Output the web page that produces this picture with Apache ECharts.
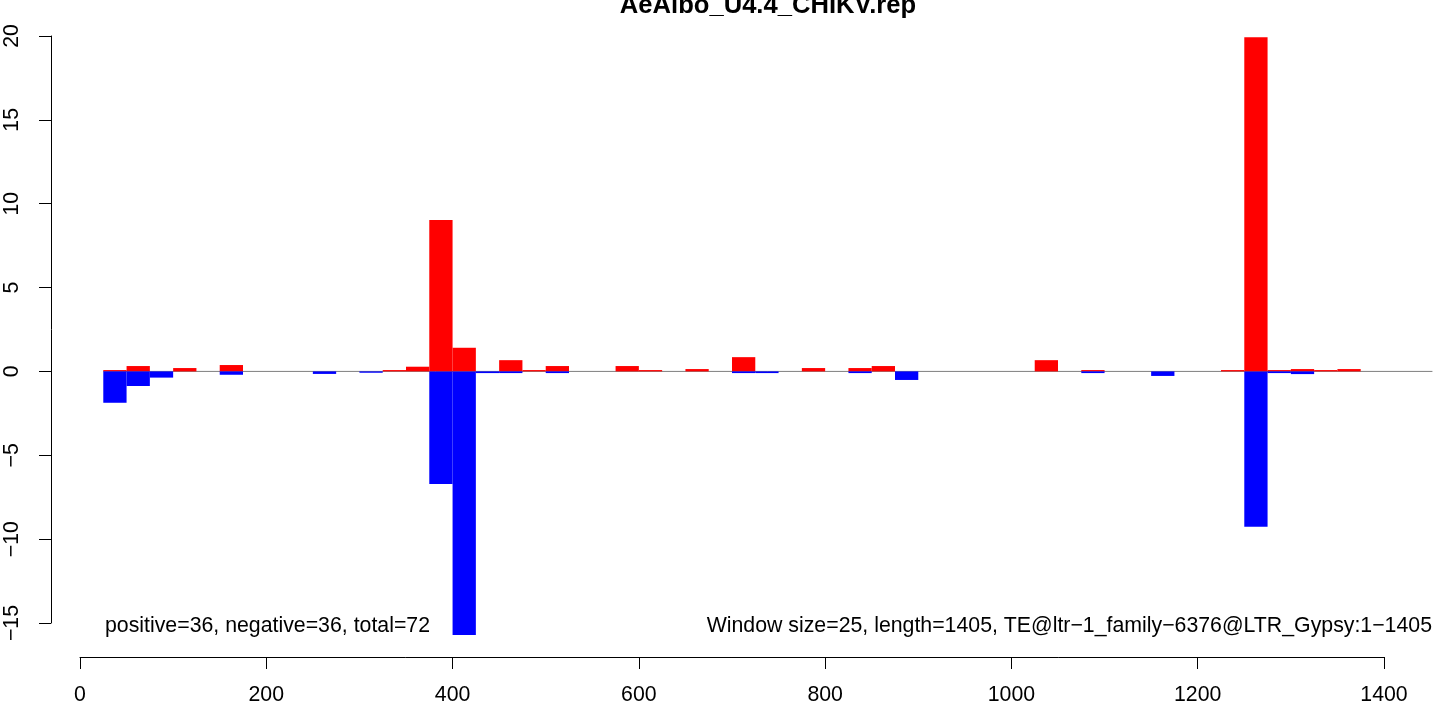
<!DOCTYPE html>
<html><head><meta charset="utf-8">
<script src="https://cdn.jsdelivr.net/npm/echarts@6/dist/echarts.min.js"></script>
<style>html,body{margin:0;padding:0;background:#fff}#c{width:1435px;height:706px}</style>
</head><body><div id="c"></div>
<script>
const titleText = 'AeAlbo_U4.4_CHIKV.rep';
const windowSize = 25;
const windowStarts = [25, 50, 75, 100, 125, 150, 175, 200, 225, 250, 275, 300, 325, 350, 375, 400, 425, 450, 475, 500,
  525, 550, 575, 600, 625, 650, 675, 700, 725, 750, 775, 800, 825, 850, 875, 900, 925, 950, 975, 1000,
  1025, 1050, 1075, 1100, 1125, 1150, 1175, 1200, 1225, 1250, 1275, 1300, 1325, 1350, 1375];
const positiveValues = [0.08, 0.32, 0, 0.2, 0, 0.38, 0, 0, 0, 0, 0, 0, 0.08, 0.28, 9.03, 1.41, 0, 0.67, 0.08, 0.32,
  0, 0, 0.32, 0.08, 0, 0.14, 0, 0.85, 0, 0, 0.2, 0, 0.2, 0.32, 0, 0, 0, 0, 0, 0,
  0.67, 0, 0.08, 0, 0, 0, 0, 0, 0.08, 19.93, 0.08, 0.14, 0.08, 0.14, 0];
const negativeValues = [-1.87, -0.87, -0.37, 0, 0, -0.2, 0, 0, 0, -0.15, 0, -0.08, 0, 0, -6.71, -15.72, -0.1, -0.1, 0, -0.1,
  0, 0, 0, 0, 0, 0, 0, -0.1, -0.1, 0, 0, 0, -0.1, 0, -0.51, 0, 0, 0, 0, 0,
  0, 0, -0.1, 0, 0, -0.27, 0, 0, 0, -9.27, -0.1, -0.16, 0, 0, 0];
const xAxisRange = [0, 1400];
const xTickStep = 200;
const yAxisRange = [-15, 20];
const yTickStep = 5;
const zeroLine = [[25, 0], [1452, 0]];
const leftNote = 'positive=36, negative=36, total=72';
const rightNote = 'Window size=25, length=1405, TE@ltr\u22121_family\u22126376@LTR_Gypsy:1\u22121405';

const FONT = '"Liberation Sans", Arial, Helvetica, sans-serif';
const posData = windowStarts.map((s, i) => [s, positiveValues[i]]);
const negData = windowStarts.map((s, i) => [s, negativeValues[i]]);

function barRenderer(color) {
  return function (params, api) {
    const s = api.value(0), v = api.value(1);
    if (!v) return null;
    const p0 = api.coord([s, v]);
    const p1 = api.coord([s + windowSize, 0]);
    return {
      type: 'rect',
      shape: { x: p0[0], y: Math.min(p0[1], p1[1]), width: p1[0] - p0[0], height: Math.abs(p1[1] - p0[1]) },
      style: { fill: color }
    };
  };
}
const minus = v => String(v).replace('-', '\u2212');
const plain = v => String(v);

const chart = echarts.init(document.getElementById('c'), null, { renderer: 'canvas' });
chart.setOption({
  animation: false,
  backgroundColor: '#fff',
  grid: [
    { left: 51, width: 1384, top: 13, height: 644 },
    { left: 80, width: 1304, top: 656, height: 1 },
    { left: 51, width: 1, top: 36, height: 587 }
  ],
  xAxis: [
    { gridIndex: 0, type: 'value', min: -31.135, max: 1454.755, show: false },
    { gridIndex: 1, type: 'value', min: xAxisRange[0], max: xAxisRange[1], interval: xTickStep,
      axisLine: { show: true, lineStyle: { color: '#000', width: 1 } },
      axisTick: { show: true, length: 12, lineStyle: { color: '#000', width: 1 } },
      axisLabel: { margin: 28, color: '#000', fontSize: 21.3, fontFamily: FONT, formatter: plain },
      splitLine: { show: false } },
    { gridIndex: 2, type: 'value', min: 0, max: 1, show: false }
  ],
  yAxis: [
    { gridIndex: 0, type: 'value', min: -17.03, max: 21.372, show: false },
    { gridIndex: 1, type: 'value', min: 0, max: 1, show: false },
    { gridIndex: 2, type: 'value', min: yAxisRange[0], max: yAxisRange[1], interval: yTickStep,
      axisLine: { show: true, lineStyle: { color: '#000', width: 1 } },
      axisTick: { show: true, length: 12, lineStyle: { color: '#000', width: 1 } },
      axisLabel: { rotate: 90, margin: 28, color: '#000', fontSize: 21.3, fontFamily: FONT, formatter: minus },
      splitLine: { show: false } }
  ],
  series: [
    { type: 'line', xAxisIndex: 0, yAxisIndex: 0, data: zeroLine, symbol: 'none', z: 1,
      lineStyle: { color: '#7f7f7f', width: 1 }, silent: true },
    { type: 'custom', xAxisIndex: 0, yAxisIndex: 0, data: posData, renderItem: barRenderer('#ff0000'), z: 2, silent: true },
    { type: 'custom', xAxisIndex: 0, yAxisIndex: 0, data: negData, renderItem: barRenderer('#0000ff'), z: 2, silent: true }
  ],
  graphic: [
    { type: 'text', x: 768, y: 6, style: { text: titleText, textAlign: 'center', textVerticalAlign: 'middle',
      font: 'bold 25.6px ' + FONT, fill: '#000' } },
    { type: 'text', x: 105, y: 626, style: { text: leftNote, textAlign: 'left', textVerticalAlign: 'middle',
      font: '21.3px ' + FONT, fill: '#000' } },
    { type: 'text', x: 1432, y: 626, style: { text: rightNote, textAlign: 'right', textVerticalAlign: 'middle',
      font: '21.3px ' + FONT, fill: '#000' } }
  ]
});
</script></body></html>
